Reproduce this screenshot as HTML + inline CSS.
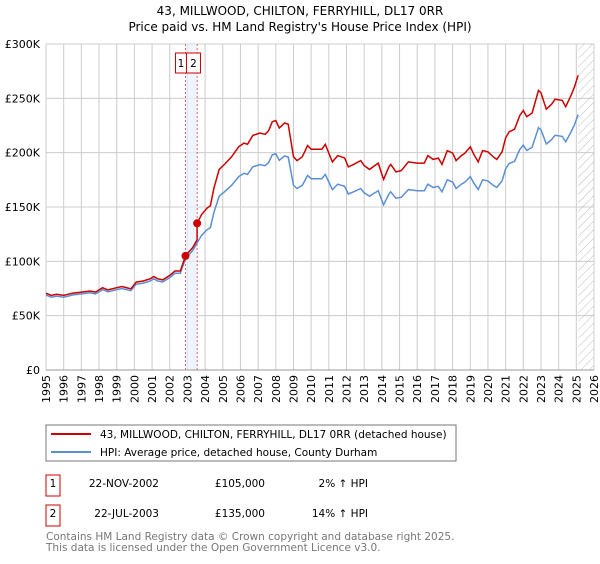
<!DOCTYPE html>
<html><head><meta charset="utf-8"><style>
body{margin:0;background:#fff;font-family:"DejaVu Sans","Liberation Sans",sans-serif;}
svg text{font-family:"DejaVu Sans","Liberation Sans",sans-serif;}
</style></head><body>
<svg id="c" width="600" height="560">
<defs><pattern id="h" width="6" height="6" patternUnits="userSpaceOnUse" patternTransform="rotate(45)"><line x1="0" y1="0" x2="0" y2="6" stroke="#bbb" stroke-width="1"/></pattern></defs>
<text x="300" y="15" text-anchor="middle" font-size="12">43, MILLWOOD, CHILTON, FERRYHILL, DL17 0RR</text>
<text x="300" y="31" text-anchor="middle" font-size="12">Price paid vs. HM Land Registry's House Price Index (HPI)</text>
<g id="grid"></g><g id="marks"></g>
<rect x="46" y="425" width="410" height="36" fill="#fff" stroke="#777"/>
<line x1="51" y1="434" x2="91" y2="434" stroke="#cc0000" stroke-width="2"/>
<text x="100" y="438" font-size="10.5">43, MILLWOOD, CHILTON, FERRYHILL, DL17 0RR (detached house)</text>
<line x1="51" y1="452" x2="91" y2="452" stroke="#5b8fd4" stroke-width="2"/>
<text x="100" y="456" font-size="10.5">HPI: Average price, detached house, County Durham</text>
<g font-size="10.5">
<rect x="46" y="475" width="14" height="21" fill="none" stroke="#cc0000"/><text x="53" y="487" text-anchor="middle">1</text>
<text x="159" y="487" text-anchor="end">22-NOV-2002</text><text x="265" y="487" text-anchor="end">£105,000</text><text x="368" y="487" text-anchor="end">2% ↑ HPI</text>
<rect x="46" y="505" width="14" height="21" fill="none" stroke="#cc0000"/><text x="53" y="517" text-anchor="middle">2</text>
<text x="159" y="517" text-anchor="end">22-JUL-2003</text><text x="265" y="517" text-anchor="end">£135,000</text><text x="368" y="517" text-anchor="end">14% ↑ HPI</text>
</g>
<text x="46" y="540" font-size="10.5" fill="#777">Contains HM Land Registry data © Crown copyright and database right 2025.</text>
<text x="46" y="551" font-size="10.5" fill="#777">This data is licensed under the Open Government Licence v3.0.</text>
</svg>
<script>
const hpiYears=[1995.0,1995.3,1995.6,1996.0,1996.5,1997.0,1997.5,1997.8,1998.0,1998.2,1998.5,1999.0,1999.3,1999.8,2000.1,2000.5,2000.9,2001.1,2001.3,2001.6,2002.0,2002.3,2002.6,2002.9,2003.3,2003.55,2003.8,2004.1,2004.3,2004.5,2004.8,2005.1,2005.5,2005.9,2006.2,2006.4,2006.7,2007.1,2007.4,2007.6,2007.8,2008.0,2008.2,2008.5,2008.7,2009.0,2009.2,2009.5,2009.8,2010.0,2010.4,2010.6,2010.8,2011.0,2011.2,2011.5,2011.9,2012.1,2012.4,2012.8,2013.0,2013.3,2013.6,2013.8,2014.0,2014.1,2014.4,2014.5,2014.8,2015.1,2015.5,2016.0,2016.4,2016.6,2016.9,2017.2,2017.4,2017.7,2018.0,2018.2,2018.5,2018.7,2019.0,2019.2,2019.45,2019.7,2020.0,2020.3,2020.5,2020.8,2021.0,2021.2,2021.5,2021.8,2022.0,2022.2,2022.5,2022.86,2023.0,2023.3,2023.6,2023.8,2024.2,2024.4,2024.7,2024.9,2025.1];
const hpiValues=[69,67,68,67,69,70,71,70,72,74,72,74,75,73,79,80,82,84,82,81,85,89,89,103,110,117,124,129,131,145,160,164,170,178,181,180,187,189,188,191,198,199,193,197,196,170,167,170,179,176,176,176,180,173,166,171,169,162,164,167,163,160,163,165,156,152,162,164,158,159,166,165,165,171,168,169,164,175,173,167,171,173,178,172,166,175,174,170,168,174,185,190,192,203,207,202,205,223,221,208,212,216,215,210,219,226,235];
const saleYears=[2002.89,2003.55];
const salePrices=[105,135];
const yTicks=[0,50,100,150,200,250,300];
const yTickLabels=["£0","£50K","£100K","£150K","£200K","£250K","£300K"];
const xTicks=[1995,1996,1997,1998,1999,2000,2001,2002,2003,2004,2005,2006,2007,2008,2009,2010,2011,2012,2013,2014,2015,2016,2017,2018,2019,2020,2021,2022,2023,2024,2025,2026];
const L=46,R=594,T=44,B=370;
const X=y=>L+(y-1995)/(2026-1995)*(R-L);
const Y=v=>B-v/300*(B-T);
const NS="http://www.w3.org/2000/svg";
function mk(p,t,a){const e=document.createElementNS(NS,t);for(const k in a)e.setAttribute(k,a[k]);p.appendChild(e);return e;}
const g=document.getElementById('grid'),m=document.getElementById('marks');
xTicks.forEach(t=>{const l=mk(g,'line',{x1:X(t),x2:X(t),y1:T,y2:B,stroke:'#ccc'});


const tx=mk(g,'text',{x:0,y:0,'font-size':11,'text-anchor':'end',transform:`translate(${X(t)+4},${B+5}) rotate(-90)`});tx.textContent=t;

});
yTicks.forEach((t,i)=>{const l=mk(g,'line',{x1:L,x2:R,y1:Y(t),y2:Y(t),stroke:'#ccc'});


const tx=mk(g,'text',{x:40,y:Y(t)+4,'font-size':11,'text-anchor':'end'});tx.textContent=yTickLabels[i];

});
const last=hpiYears[hpiYears.length-1];
const hz=mk(g,'rect',{x:X(last),y:T,width:R-X(last),height:B-T,fill:'url(#h)'});


const band=mk(g,'rect',{x:X(saleYears[0]),y:T,width:X(saleYears[1])-X(saleYears[0]),height:B-T,fill:'#e8f0fc',opacity:0.7});


function hpiAt(y){for(let i=1;i<hpiYears.length;i++){if(y<=hpiYears[i]){const f=(y-hpiYears[i-1])/(hpiYears[i]-hpiYears[i-1]);return hpiValues[i-1]+f*(hpiValues[i]-hpiValues[i-1]);}}return hpiValues[hpiValues.length-1];}
const r1=salePrices[0]/hpiAt(saleYears[0]),r2=salePrices[1]/hpiAt(saleYears[1]);
const bx0=X(saleYears[0])-10;
saleYears.forEach((s,i)=>{const l=mk(m,'line',{x1:X(s),x2:X(s),y1:T,y2:B,stroke:'#e04040','stroke-dasharray':'2,2','stroke-width':0.8});


const bx=mk(m,'rect',{x:i==0?bx0:bx0+11,y:53,width:i==0?11:14,height:20,fill:'#fff',stroke:'#cc0000'});


const tx=mk(m,'text',{x:i==0?bx0+5.5:bx0+18,y:67,'font-size':10.5,'text-anchor':'middle'});tx.textContent=i+1;

});
let hp='';
hpiYears.forEach((y,i)=>{hp+=(i?'L':'M')+X(y).toFixed(1)+','+Y(hpiValues[i]).toFixed(1);});
let rp2='';hpiYears.forEach((y,i)=>{const v=hpiValues[i];
if(y<saleYears[0])rp2+=(rp2?'L':'M')+X(y).toFixed(1)+','+Y(v*r1).toFixed(1);});
rp2+='L'+X(saleYears[0]).toFixed(1)+','+Y(salePrices[0]).toFixed(1);
hpiYears.forEach((y,i)=>{if(y>saleYears[0]&&y<saleYears[1])rp2+='L'+X(y).toFixed(1)+','+Y(hpiValues[i]*r1).toFixed(1);});
rp2+='L'+X(saleYears[1]).toFixed(1)+','+Y(hpiAt(saleYears[1])*r1).toFixed(1)+'L'+X(saleYears[1]).toFixed(1)+','+Y(salePrices[1]).toFixed(1);
hpiYears.forEach((y,i)=>{if(y>saleYears[1])rp2+='L'+X(y).toFixed(1)+','+Y(hpiValues[i]*r2).toFixed(1);});
const hl=mk(m,'path',{d:hp,fill:'none',stroke:'#5b8fd4','stroke-width':1.5});


const rl=mk(m,'path',{d:rp2,fill:'none',stroke:'#cc0000','stroke-width':1.5});


saleYears.forEach((s,i)=>{const c=mk(m,'circle',{cx:X(s),cy:Y(salePrices[i]),r:4,fill:'#cc0000'});

});
const ax=mk(m,'line',{x1:L,x2:R,y1:B,y2:B,stroke:'#999'});


</script>
</body></html>
